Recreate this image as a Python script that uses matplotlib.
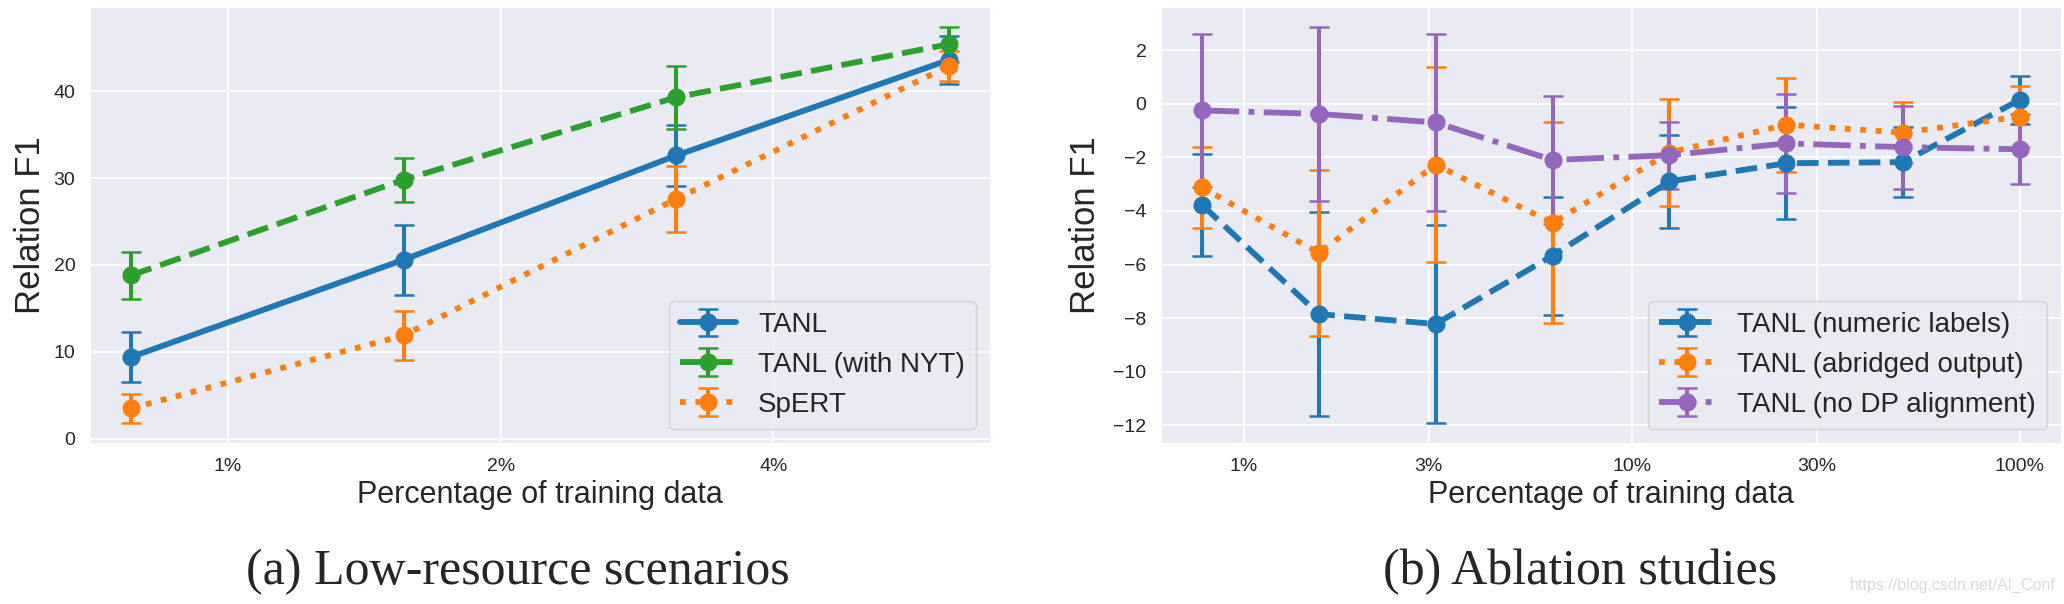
import matplotlib
matplotlib.use("Agg")
import matplotlib.pyplot as plt
from matplotlib.ticker import NullLocator, NullFormatter
import seaborn as sns

sns.set_style("darkgrid")
plt.rcParams['font.family'] = ['Liberation Sans', 'DejaVu Sans']

# ---- data: low-resource scenarios ----
low_pct = [0.78125, 1.5625, 3.125, 6.25]
tanl = [9.4, 20.6, 32.6, 43.6]
tanl_err = [2.9, 4.0, 3.5, 2.8]
tanl_nyt = [18.8, 29.8, 39.3, 45.4]
tanl_nyt_err = [2.7, 2.5, 3.6, 2.0]
spert = [3.5, 11.9, 27.6, 42.9]
spert_err = [1.7, 2.8, 3.8, 1.7]
low_ticks = [1, 2, 4]
low_ticklabels = ['1%', '2%', '4%']

# ---- data: ablation studies ----
abl_pct = [0.78125, 1.5625, 3.125, 6.25, 12.5, 25, 50, 100]
numeric = [-3.77, -7.85, -8.22, -5.67, -2.90, -2.22, -2.18, 0.15]
numeric_err = [1.9, 3.8, 3.7, 2.2, 1.75, 2.1, 1.3, 0.9]
abridged = [-3.12, -5.57, -2.27, -4.45, -1.82, -0.78, -1.08, -0.48]
abridged_err = [1.5, 3.1, 3.65, 3.75, 2.0, 1.75, 1.15, 1.15]
no_dp = [-0.25, -0.38, -0.70, -2.10, -1.92, -1.48, -1.62, -1.70]
no_dp_err = [2.85, 3.25, 3.3, 2.4, 1.25, 1.85, 1.55, 1.3]
abl_ticks = [1, 3, 10, 30, 100]
abl_ticklabels = ['1%', '3%', '10%', '30%', '100%']
abl_yticks = [-12, -10, -8, -6, -4, -2, 0, 2]

fig = plt.figure(figsize=(20.64, 6.04), dpi=100)
ax1 = fig.add_axes([0.0436, 0.2666, 0.4360, 0.7218])
ax2 = fig.add_axes([0.5625, 0.2666, 0.4360, 0.7218])

style = dict(lw=4.2, marker='o', ms=12, elinewidth=2.9, capsize=7, capthick=1.8)

ax1.errorbar(low_pct, tanl, yerr=tanl_err, color='#1f77b4', ls='-', label='TANL', **style)
ax1.errorbar(low_pct, tanl_nyt, yerr=tanl_nyt_err, color='#2ca02c', ls='--', label='TANL (with NYT)', **style)
ax1.errorbar(low_pct, spert, yerr=spert_err, color='#ff7f0e', ls=':', label='SpERT', **style)

ax2.errorbar(abl_pct, numeric, yerr=numeric_err, color='#1f77b4', ls='--', label='TANL (numeric labels)', **style)
ax2.errorbar(abl_pct, abridged, yerr=abridged_err, color='#ff7f0e', ls=':', label='TANL (abridged output)', **style)
ax2.errorbar(abl_pct, no_dp, yerr=no_dp_err, color='#9467bd', ls='-.', label='TANL (no DP alignment)', **style)

for ax, ticks, labels in [(ax1, low_ticks, low_ticklabels), (ax2, abl_ticks, abl_ticklabels)]:
    ax.set_xscale('log')
    ax.set_xticks(ticks)
    ax.set_xticklabels(labels)
    ax.xaxis.set_minor_locator(NullLocator())
    ax.xaxis.set_minor_formatter(NullFormatter())
    ax.tick_params(axis='both', labelsize=14, pad=10.5, length=0)
    ax.grid(True, color='white', lw=1.3)
    ax.set_xlabel('Percentage of training data', fontsize=22)
    ax.xaxis.set_label_coords(0.5, -0.085)
    ax.set_ylabel('Relation F1', fontsize=25)
    ax.legend(loc='lower right', fontsize=20)

ax1.set_yticks([0, 10, 20, 30, 40])
ax2.set_yticks(abl_yticks)
ax1.yaxis.set_label_coords(-0.048, 0.5)
ax2.yaxis.set_label_coords(-0.066, 0.5)

fig.text(518 / 2064, 0.053, '(a) Low-resource scenarios', ha='center', va='center',
         fontsize=36, family='Liberation Serif')
fig.text(1580 / 2064, 0.053, '(b) Ablation studies', ha='center', va='center',
         fontsize=36, family='Liberation Serif')
fig.text(1953 / 2064, 1 - 585 / 604, 'https://blog.csdn.net/AI_Conf', ha='center', va='center',
         fontsize=11.5, color='#dadada')

fig.savefig('out.png', dpi=100)
